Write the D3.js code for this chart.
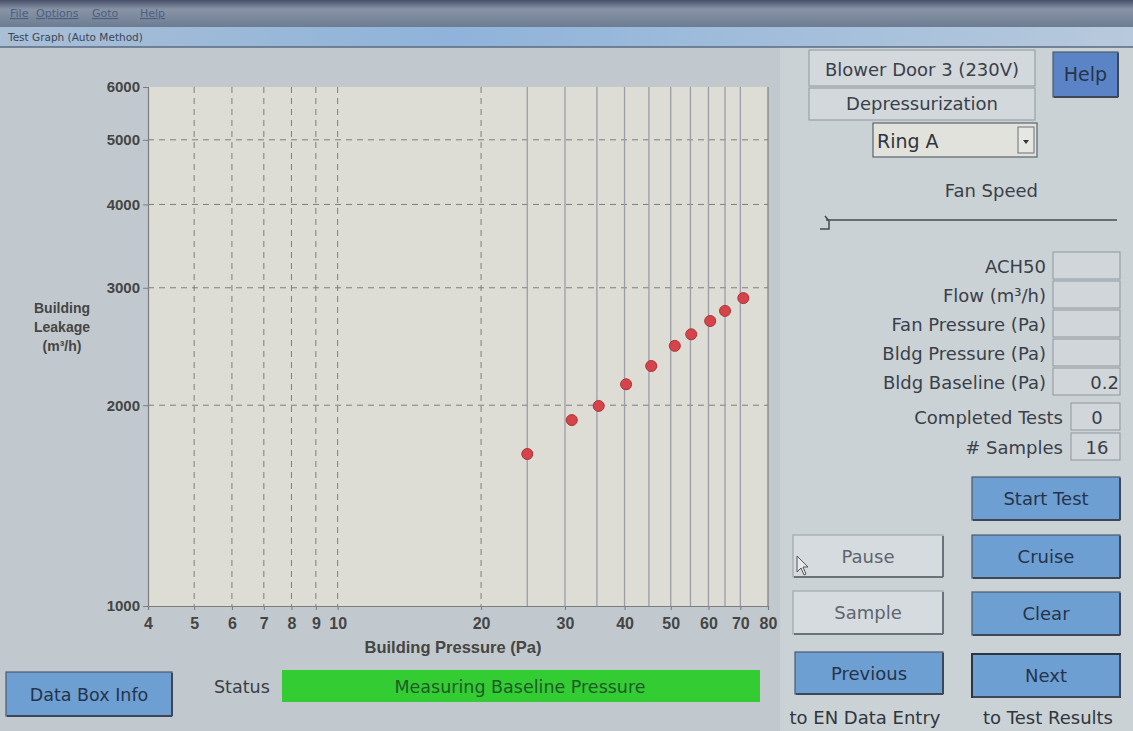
<!DOCTYPE html>
<html>
<head>
<meta charset="utf-8">
<script src="https://cdn.jsdelivr.net/npm/d3@7"></script>
<style>
  html, body { margin: 0; padding: 0; background: #c4cbcf; }
  svg { display: block; }
</style>
</head>
<body>
<svg id="chart" width="1133" height="731"></svg>
<script>
// ---------------- data ----------------
const pressureTicks = [4, 5, 6, 7, 8, 9, 10, 20, 30, 40, 50, 60, 70, 80];
const leakageTicks = [1000, 2000, 3000, 4000, 5000, 6000];
const dashedPressureGrid = [5, 6, 7, 8, 9, 10, 20];
const dashedLeakageGrid = [2000, 3000, 4000, 5000];
const targetPressures = [25, 30, 35, 40, 45, 50, 55, 60, 65, 70];
const samplePressure = [25, 31, 35.3, 40.3, 45.5, 51, 55.2, 60.5, 65, 71];
const sampleLeakage = [1690, 1900, 1995, 2150, 2290, 2455, 2555, 2675, 2770, 2895];

const menuItems = ["File", "Options", "Goto", "Help"];
const readoutLabels = ["ACH50", "Flow (m\u00B3/h)", "Fan Pressure (Pa)", "Bldg Pressure (Pa)", "Bldg Baseline (Pa)"];
const readoutValues = ["", "", "", "", "0.2"];
const counterLabels = ["Completed Tests", "# Samples"];
const counterValues = ["0", "16"];

// ---------------- setup ----------------
const svg = d3.select("#chart");
const W = 1133, H = 731;
const uiFont = "'DejaVu Sans', Verdana, sans-serif";
const axFont = "'Liberation Sans', Arial, sans-serif";

const defs = svg.append("defs");
const gMenu = defs.append("linearGradient").attr("id", "menuGrad").attr("x1", 0).attr("y1", 0).attr("x2", 0).attr("y2", 1);
gMenu.append("stop").attr("offset", "0%").attr("stop-color", "#46506a");
gMenu.append("stop").attr("offset", "35%").attr("stop-color", "#8894a6");
gMenu.append("stop").attr("offset", "100%").attr("stop-color", "#6e7c92");
const gTitle = defs.append("linearGradient").attr("id", "titleGrad").attr("x1", 0).attr("y1", 0).attr("x2", 1).attr("y2", 0);
gTitle.append("stop").attr("offset", "0%").attr("stop-color", "#a9bfd6");
gTitle.append("stop").attr("offset", "40%").attr("stop-color", "#8fb3da");
gTitle.append("stop").attr("offset", "100%").attr("stop-color", "#b7c9dc");

// background
svg.append("rect").attr("x", 0).attr("y", 0).attr("width", W).attr("height", H).attr("fill", "#c2c9ce");
svg.append("rect").attr("x", 780).attr("y", 47).attr("width", W - 780).attr("height", H - 47).attr("fill", "#cbd2d6");

// menu bar
svg.append("rect").attr("x", 0).attr("y", 0).attr("width", W).attr("height", 27).attr("fill", "url(#menuGrad)");
const menuX = [10, 36, 92, 140];
svg.selectAll(".menu").data(menuItems).join("text")
  .attr("x", (d, i) => menuX[i]).attr("y", 17)
  .attr("font-family", uiFont).attr("font-size", 11).attr("fill", "#4d5f82").attr("text-decoration", "underline")
  .text(d => d);
// title bar
svg.append("rect").attr("x", 0).attr("y", 27).attr("width", W).attr("height", 20).attr("fill", "url(#titleGrad)");
svg.append("line").attr("x1", 0).attr("x2", W).attr("y1", 47).attr("y2", 47).attr("stroke", "#5a6a80").attr("stroke-width", 1.5);
svg.append("text").attr("x", 8).attr("y", 41).attr("font-family", uiFont).attr("font-size", 10.5)
  .attr("fill", "#3a4656").text("Test Graph (Auto Method)");

// ---------------- chart ----------------
const plot = { left: 148, right: 768, top: 87, bottom: 606 };
const x = d3.scaleLog().domain([4, 80]).range([plot.left, plot.right]);
const y = d3.scaleLog().domain([1000, 6000]).range([plot.bottom, plot.top]);

svg.append("rect").attr("x", plot.left).attr("y", plot.top)
  .attr("width", plot.right - plot.left).attr("height", plot.bottom - plot.top)
  .attr("fill", "#dddcd5");

// dashed grid
svg.append("g").selectAll("line").data(dashedPressureGrid).join("line")
  .attr("x1", d => x(d)).attr("x2", d => x(d)).attr("y1", plot.top).attr("y2", plot.bottom)
  .attr("stroke", "#7e7e7e").attr("stroke-width", 1).attr("stroke-dasharray", "6,5");
svg.append("g").selectAll("line").data(dashedLeakageGrid).join("line")
  .attr("x1", plot.left).attr("x2", plot.right).attr("y1", d => y(d)).attr("y2", d => y(d))
  .attr("stroke", "#7e7e7e").attr("stroke-width", 1).attr("stroke-dasharray", "6,5");

// target pressure lines
svg.append("g").selectAll("line").data(targetPressures).join("line")
  .attr("x1", d => x(d)).attr("x2", d => x(d)).attr("y1", plot.top).attr("y2", plot.bottom)
  .attr("stroke", "#9c9cab").attr("stroke-width", 1.3);

// axes
const xAxis = d3.axisBottom(x).tickValues(pressureTicks).tickFormat(d3.format("d")).tickSize(4).tickPadding(5);
const yAxis = d3.axisLeft(y).tickValues(leakageTicks).tickFormat(d3.format("d")).tickSize(5).tickPadding(3);
const gx = svg.append("g").attr("transform", `translate(0,${plot.bottom})`).call(xAxis);
const gy = svg.append("g").attr("transform", `translate(${plot.left},0)`).call(yAxis);
[gx, gy].forEach(g => {
  g.select(".domain").attr("stroke", "#7d7d7d").attr("stroke-width", 1.2);
  g.selectAll(".tick line").attr("stroke", "#7d7d7d");
  g.selectAll(".tick text").attr("font-family", axFont).attr("font-weight", "bold")
    .attr("font-size", 15).attr("fill", "#454545");
});
gx.selectAll(".tick text").attr("font-size", 16).attr("dy", "0.9em");
svg.append("line").attr("x1", plot.right).attr("x2", plot.right).attr("y1", plot.top).attr("y2", plot.bottom)
  .attr("stroke", "#7d7d7d").attr("stroke-width", 1.2);

// axis titles
svg.append("text").attr("x", (plot.left + plot.right) / 2 - 5).attr("y", 653).attr("text-anchor", "middle")
  .attr("font-family", axFont).attr("font-weight", "bold").attr("font-size", 16.5).attr("fill", "#454545")
  .text("Building Pressure (Pa)");
const yTitle = svg.append("text").attr("x", 62).attr("y", 313).attr("text-anchor", "middle")
  .attr("font-family", axFont).attr("font-weight", "bold").attr("font-size", 14).attr("fill", "#454545");
yTitle.append("tspan").attr("x", 62).attr("dy", 0).text("Building");
yTitle.append("tspan").attr("x", 62).attr("dy", 19).text("Leakage");
yTitle.append("tspan").attr("x", 62).attr("dy", 19).text("(m\u00B3/h)");

// sample points
svg.append("g").selectAll("circle").data(samplePressure).join("circle")
  .attr("cx", d => x(d)).attr("cy", (d, i) => y(sampleLeakage[i])).attr("r", 5.5)
  .attr("fill", "#d4444a").attr("stroke", "#b03038").attr("stroke-width", 1);

// ---------------- controls ----------------
function button(x0, y0, w, h, label, opt = {}) {
  const g = svg.append("g");
  g.append("rect").attr("x", x0).attr("y", y0).attr("width", w).attr("height", h)
    .attr("fill", opt.fill || "#6e9fd2")
    .attr("stroke", opt.stroke || "#4a5a6e").attr("stroke-width", opt.sw || 1.2);
  g.append("line").attr("x1", x0 + 1).attr("x2", x0 + w).attr("y1", y0 + h).attr("y2", y0 + h)
    .attr("stroke", opt.shadow || "#3d4756").attr("stroke-width", 2);
  g.append("line").attr("x1", x0 + w).attr("x2", x0 + w).attr("y1", y0 + 1).attr("y2", y0 + h)
    .attr("stroke", opt.shadow || "#3d4756").attr("stroke-width", 2);
  g.append("text").attr("x", x0 + w / 2).attr("y", y0 + h / 2 + 6.5).attr("text-anchor", "middle")
    .attr("font-family", uiFont).attr("font-size", opt.fs || 18).attr("fill", opt.color || "#25344a")
    .text(label);
  return g;
}

button(6, 672, 166, 44, "Data Box Info", { fs: 17.5 });
svg.append("text").attr("x", 214).attr("y", 693).attr("font-family", uiFont).attr("font-size", 17.5)
  .attr("fill", "#3a3f46").text("Status");
svg.append("rect").attr("x", 282).attr("y", 670).attr("width", 478).attr("height", 32).attr("fill", "#33cc33");
svg.append("text").attr("x", 520).attr("y", 693).attr("text-anchor", "middle").attr("font-family", uiFont)
  .attr("font-size", 17.5).attr("fill", "#1f5a28").text("Measuring Baseline Pressure");

function box(x0, y0, w, h, fill) {
  svg.append("rect").attr("x", x0).attr("y", y0).attr("width", w).attr("height", h)
    .attr("fill", fill || "#d0d6da").attr("stroke", "#8f979e").attr("stroke-width", 1);
}
box(809, 50, 226, 36, "#d2d8dc");
svg.append("text").attr("x", 922).attr("y", 76).attr("text-anchor", "middle").attr("font-family", uiFont)
  .attr("font-size", 18).attr("fill", "#3a4048").text("Blower Door 3 (230V)");
box(809, 88, 226, 32, "#d2d8dc");
svg.append("text").attr("x", 922).attr("y", 110).attr("text-anchor", "middle").attr("font-family", uiFont)
  .attr("font-size", 18).attr("fill", "#3a4048").text("Depressurization");

// dropdown
svg.append("rect").attr("x", 873).attr("y", 123).attr("width", 164).attr("height", 34)
  .attr("fill", "#e2e2dd").attr("stroke", "#5c636b").attr("stroke-width", 1.2);
svg.append("rect").attr("x", 1018).attr("y", 127).attr("width", 16).attr("height", 26)
  .attr("fill", "#e6e6e2").attr("stroke", "#6b7178");
svg.append("path").attr("d", "M1023,140 L1029,140 L1026,144 Z").attr("fill", "#333");
svg.append("text").attr("x", 877).attr("y", 148).attr("font-family", uiFont).attr("font-size", 19)
  .attr("fill", "#2f353c").text("Ring A");

svg.append("text").attr("x", 1038).attr("y", 197).attr("text-anchor", "end").attr("font-family", uiFont)
  .attr("font-size", 18).attr("fill", "#3a4048").text("Fan Speed");
// slider
svg.append("line").attr("x1", 826).attr("x2", 1117).attr("y1", 220).attr("y2", 220).attr("stroke", "#444b52").attr("stroke-width", 1.5);
svg.append("path").attr("d", "M820,229 L829,229 L829,221 L825,216").attr("fill", "none").attr("stroke", "#444b52").attr("stroke-width", 1.5);

// help button
button(1053, 52, 65, 45, "Help", { fill: "#5b84c6", fs: 19 });

// readouts
const readoutY = [252, 281, 310, 339, 368];
readoutLabels.forEach((lab, i) => {
  svg.append("text").attr("x", 1046).attr("y", readoutY[i] + 21).attr("text-anchor", "end")
    .attr("font-family", uiFont).attr("font-size", 18).attr("fill", "#3a4048").text(lab);
  box(1053, readoutY[i], 67, 27, "#d0d6da");
  svg.append("text").attr("x", 1119).attr("y", readoutY[i] + 21).attr("text-anchor", "end")
    .attr("font-family", uiFont).attr("font-size", 18).attr("fill", "#3a4048").text(readoutValues[i]);
});
const counterY = [403, 433];
counterLabels.forEach((lab, i) => {
  svg.append("text").attr("x", 1063).attr("y", counterY[i] + 21).attr("text-anchor", "end")
    .attr("font-family", uiFont).attr("font-size", 18).attr("fill", "#3a4048").text(lab);
  box(1071, counterY[i], 49, 27, "#d0d6da");
  svg.append("text").attr("x", 1097).attr("y", counterY[i] + 21).attr("text-anchor", "middle")
    .attr("font-family", uiFont).attr("font-size", 18).attr("fill", "#3a4048").text(counterValues[i]);
});

// action buttons
const grey = { fill: "#d6dbdf", stroke: "#a0a8ae", color: "#5d656e", shadow: "#6a727a" };
button(972, 477, 148, 43, "Start Test");
button(793, 535, 150, 42, "Pause", grey);
button(972, 535, 148, 43, "Cruise");
button(793, 591, 150, 43, "Sample", grey);
button(972, 592, 148, 43, "Clear");
button(795, 652, 148, 42, "Previous");
button(972, 654, 148, 43, "Next", { stroke: "#2c3440", sw: 2 });
svg.append("text").attr("x", 865).attr("y", 724).attr("text-anchor", "middle").attr("font-family", uiFont)
  .attr("font-size", 18).attr("fill", "#30363d").text("to EN Data Entry");
svg.append("text").attr("x", 1048).attr("y", 724).attr("text-anchor", "middle").attr("font-family", uiFont)
  .attr("font-size", 18).attr("fill", "#30363d").text("to Test Results");

// mouse cursor
svg.append("path").attr("d", "M797,556 L797,572 L801,568 L804,575 L806,574 L803,567 L808,567 Z")
  .attr("fill", "#e8e8e8").attr("stroke", "#555").attr("stroke-width", 1);
</script>
</body>
</html>
